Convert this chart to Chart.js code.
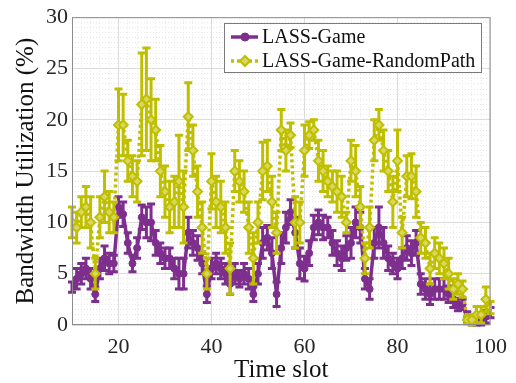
<!DOCTYPE html>
<html lang="en">
<head>
<meta charset="UTF-8">
<title>Bandwidth Utilization</title>
<script src="https://cdn.jsdelivr.net/npm/chart.js"></script>
<style>
  html, body { margin: 0; padding: 0; background: #fff; }
  .grafico { width: 516px; height: 383px; }
</style>
</head>
<body>
<div class="grafico"><canvas id="myChart"></canvas></div>

<script>
// time slots (x axis)
const timeSlots = [10, 11, 12, 13, 14, 15, 16, 17, 18, 19,
  20, 21, 22, 23, 24, 25, 26, 27, 28, 29,
  30, 31, 32, 33, 34, 35, 36, 37, 38, 39,
  40, 41, 42, 43, 44, 45, 46, 47, 48, 49,
  50, 51, 52, 53, 54, 55, 56, 57, 58, 59,
  60, 61, 62, 63, 64, 65, 66, 67, 68, 69,
  70, 71, 72, 73, 74, 75, 76, 77, 78, 79,
  80, 81, 82, 83, 84, 85, 86, 87, 88, 89,
  90, 91, 92, 93, 94, 95, 96, 97, 98, 99, 100];

// LASS-Game: mean and half error
const gameMean = [3.7, 4.5, 5, 5.5, 4.5, 3, 5.5, 6.5, 6, 6,
  11.5, 10.8, 8, 6, 7.5, 10.5, 10, 10, 8, 7,
  6.5, 6.5, 5.5, 5, 5, 9, 8, 7.5, 6, 3,
  5.5, 6, 5.5, 5, 4, 5, 4.5, 5, 4.5, 3,
  5, 8, 8.5, 7, 3, 7.5, 9.5, 11, 9, 6,
  5.5, 7, 9.5, 10, 9.5, 9.5, 8, 7, 6.5, 7.5,
  8, 10, 9.5, 4.5, 3.5, 8, 9.5, 8, 6.5, 6,
  5.5, 6.5, 7.5, 7, 8, 4, 3.5, 3, 3.5, 3.5,
  3.5, 3, 2.5, 2, 2, 0.8, 0.3, 0.3, 0.4, 0.8, 1.2];
const gameErr = [0.5, 1, 1, 1, 1, 0.7, 1, 1.2, 1, 0.8,
  1, 1.2, 1, 0.8, 1, 1.2, 1.5, 1.8, 1.2, 1,
  1, 1, 1, 1.5, 1.5, 1.5, 1.2, 1.2, 1, 0.8,
  1, 1, 1, 1, 1, 1, 0.8, 1, 1, 0.7,
  1, 1.5, 1.2, 1.5, 1.2, 1.5, 1.5, 1.2, 1.5, 1.5,
  1.2, 1.2, 1.2, 1.2, 1.2, 1, 1.2, 1.2, 1.2, 1.2,
  1.5, 1.5, 1.5, 1, 1, 1.5, 2, 1.5, 1.2, 1,
  1, 1, 1.2, 1.2, 1.2, 1, 1, 1, 1, 1,
  1, 0.8, 0.8, 0.6, 0.5, 0.5, 0.3, 0.3, 0.4, 0.6, 0.5];

// LASS-Game-RandomPath: mean and half error
const randomMean = [10, 9.5, 11, 11.5, 10, 5, 10.5, 12.5, 11, 10.5,
  19.5, 19.5, 16, 14.5, 14, 21.5, 22, 20, 19, 15,
  13, 11.5, 12, 14, 11.5, 20.3, 17, 13, 9.5, 5,
  14, 12, 11.5, 9.5, 5.5, 15, 14, 13, 9.5, 6.5,
  10, 15, 15.5, 12, 9, 19, 17, 18.5, 10, 10,
  17, 18.5, 19, 16, 15, 14, 13.5, 13, 12.5, 10,
  16, 15, 11.5, 6.5, 9.5, 18, 19.5, 17, 15, 12,
  16, 9, 14.5, 14.5, 13, 8.5, 8, 5.5, 7, 6.5,
  6, 5, 3.5, 4, 3.5, 0.5, 0.5, 1, 1, 2.5, 1.7];
const randomErr = [1.5, 1.5, 1.5, 2, 2.5, 1.5, 2, 2.5, 2, 1.5,
  3.5, 3, 2, 2, 2, 5, 5, 4, 3, 2.5,
  2.5, 2.5, 2.5, 4.5, 3.5, 3.3, 2.5, 2.5, 2.5, 1.5,
  2.7, 2.5, 2.5, 2.5, 2.5, 2, 2, 2, 2.5, 2.5,
  2, 2.8, 2.5, 2.5, 2, 2, 2, 1.2, 2.5, 2,
  2.5, 1.3, 1, 2, 2, 1.5, 1.5, 2, 2, 1,
  2, 2.5, 2, 1.5, 2, 2, 1.5, 2, 2, 2.5,
  3, 1.5, 2, 2.2, 2.5, 1.5, 1.5, 1.5, 1.5, 1.5,
  1.5, 1.5, 1, 1, 0.8, 0.4, 0.5, 0.8, 0.8, 1.2, 0.6];

const xTicksMajor = [20, 40, 60, 80, 100];
const yTicksMajor = [0, 5, 10, 15, 20, 25, 30];

const roxo = '#7E2F8E';
const amarelo = '#BFBF00';
const fonte = "'Liberation Serif', 'DejaVu Serif', serif";

// error bars drawn under each dataset
const barrasErro = {
    id: 'barrasErro',
    beforeDatasetDraw(chart, args) {
        const ds = chart.data.datasets[args.index];
        const escalaY = chart.scales.y;
        const ctx = chart.ctx;
        ctx.save();
        ctx.strokeStyle = ds.borderColor;
        ctx.lineWidth = 3;
        ctx.lineCap = 'butt';
        ctx.setLineDash([]);
        args.meta.data.forEach((pt, i) => {
            const v = ds.data[i];
            const e = ds.erro[i];
            const yTop = escalaY.getPixelForValue(v + e);
            const yBot = escalaY.getPixelForValue(v - e);
            ctx.beginPath();
            ctx.moveTo(pt.x, yTop);
            ctx.lineTo(pt.x, yBot);
            ctx.moveTo(pt.x - 4, yTop);
            ctx.lineTo(pt.x + 4, yTop);
            ctx.moveTo(pt.x - 4, yBot);
            ctx.lineTo(pt.x + 4, yBot);
            ctx.stroke();
        });
        ctx.restore();
    }
};

// axes box + legend inside the plot
const caixaLegenda = {
    id: 'caixaLegenda',
    afterDraw(chart) {
        const ctx = chart.ctx;
        const a = chart.chartArea;
        ctx.save();
        ctx.strokeStyle = '#8c8c8c';
        ctx.lineWidth = 1;
        ctx.strokeRect(a.left + 0.5, a.top + 0.5, a.right - a.left - 1, a.bottom - a.top - 1);

        const bx = 224, by = 23, bw = 257, bh = 49;
        ctx.fillStyle = '#fff';
        ctx.fillRect(bx, by, bw, bh);
        ctx.strokeStyle = '#7a7a7a';
        ctx.strokeRect(bx + 0.5, by + 0.5, bw, bh);

        chart.data.datasets.forEach((ds, i) => {
            const yy = 37 + i * 24;
            ctx.strokeStyle = ds.borderColor;
            ctx.lineWidth = 3.5;
            ctx.setLineDash(ds.borderDash || []);
            ctx.beginPath();
            ctx.moveTo(231, yy);
            ctx.lineTo(258, yy);
            ctx.stroke();
            ctx.setLineDash([]);
            ctx.fillStyle = ds.pointBackgroundColor;
            ctx.strokeStyle = ds.borderColor;
            ctx.lineWidth = ds.pointBorderWidth;
            Chart.helpers.drawPoint(ctx, {
                pointStyle: ds.pointStyle,
                radius: ds.pointRadius + 0.5,
                borderWidth: ds.pointBorderWidth,
                rotation: 0
            }, 245, yy);
            ctx.fillStyle = '#111';
            ctx.font = '20px ' + fonte;
            ctx.textBaseline = 'middle';
            ctx.textAlign = 'left';
            ctx.fillText(ds.label, 262, yy + 1);
        });
        ctx.restore();
    }
};

const ehMajorX = v => xTicksMajor.includes(v);
const ehMajorY = v => yTicksMajor.includes(v);

const ctx = document.getElementById('myChart');

new Chart(ctx, {
    type: 'line',
    data: {
        labels: timeSlots,
        datasets: [{
            label: 'LASS-Game',
            data: gameMean,
            erro: gameErr,
            borderColor: roxo,
            backgroundColor: roxo,
            borderWidth: 3.5,
            pointStyle: 'circle',
            pointRadius: 3.5,
            pointBorderWidth: 1,
            pointBackgroundColor: roxo,
            pointBorderColor: roxo,
            order: 1
        }, {
            label: 'LASS-Game-RandomPath',
            data: randomMean,
            erro: randomErr,
            borderColor: amarelo,
            backgroundColor: amarelo,
            borderWidth: 3.5,
            borderDash: [3, 3],
            pointStyle: 'rectRot',
            pointRadius: 4.5,
            pointBorderWidth: 2,
            pointBackgroundColor: '#d8d860',
            pointBorderColor: amarelo,
            order: 0
        }]
    },
    options: {
        responsive: true,
        maintainAspectRatio: false,
        animation: false,
        layout: { padding: { top: 14, right: 25, left: 0, bottom: 0 } },
        plugins: {
            legend: { display: false },
            tooltip: { enabled: false }
        },
        scales: {
            x: {
                type: 'linear',
                min: 10,
                max: 100,
                afterFit: s => { s.height = 58; },
                grid: {
                    drawTicks: false,
                    color: c => (c.tick && ehMajorX(c.tick.value)) ? '#dcdcdc' : '#e8e8e8',
                    lineWidth: 1
                },
                border: {
                    display: false,
                    dash: c => (c.tick && !ehMajorX(c.tick.value)) ? [1, 2] : []
                },
                ticks: {
                    stepSize: 2,
                    maxTicksLimit: 1000,
                    autoSkip: false,
                    maxRotation: 0,
                    padding: 9,
                    color: '#262626',
                    font: { family: fonte, size: 22 },
                    callback: v => ehMajorX(v) ? String(v) : ''
                },
                title: {
                    display: true,
                    text: 'Time slot',
                    color: '#111',
                    font: { family: fonte, size: 25, lineHeight: 1 },
                    padding: { top: 0, bottom: 0.5 }
                }
            },
            y: {
                min: 0,
                max: 30,
                afterFit: s => { s.width = 72; },
                grid: {
                    drawTicks: false,
                    color: c => (c.tick && ehMajorY(c.tick.value)) ? '#dcdcdc' : '#e8e8e8',
                    lineWidth: 1
                },
                border: {
                    display: false,
                    dash: c => (c.tick && !ehMajorY(c.tick.value)) ? [1, 2] : []
                },
                ticks: {
                    stepSize: 0.5,
                    maxTicksLimit: 1000,
                    autoSkip: false,
                    padding: 4,
                    color: '#262626',
                    font: { family: fonte, size: 22 },
                    callback: v => ehMajorY(v) ? String(v) : ''
                },
                title: {
                    display: true,
                    text: 'Bandwidth Utilization (%)',
                    color: '#111',
                    font: { family: fonte, size: 25, lineHeight: 1 },
                    padding: { top: 13.5, bottom: 0 }
                }
            }
        }
    },
    plugins: [barrasErro, caixaLegenda]
});
</script>
</body>
</html>
